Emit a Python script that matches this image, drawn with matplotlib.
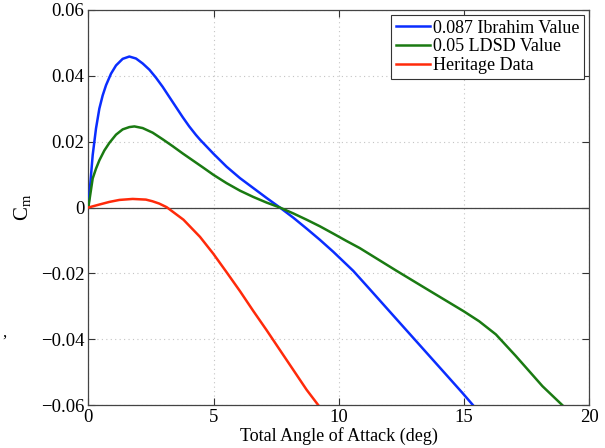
import matplotlib
matplotlib.use("Agg")
import matplotlib.pyplot as plt

plt.rcParams['font.family'] = ['Liberation Serif', 'DejaVu Serif']
plt.rcParams['mathtext.fontset'] = 'custom'
plt.rcParams['mathtext.rm'] = 'Liberation Serif'

# Data
ibrahim_x = [0, 0.174, 0.307, 0.44, 0.573, 0.707, 0.906, 1.106, 1.372, 1.638, 1.904, 2.17,
             2.44, 2.70, 2.97, 3.23, 3.50, 3.77, 4.03, 4.30, 4.46, 5.0, 5.52, 6.06, 6.59,
             7.12, 7.65, 8.19, 8.72, 9.25, 9.78, 10.58, 11.22, 12.29, 13.35, 14.28, 14.95,
             15.37]
ibrahim_y = [0, 0.0159, 0.0240, 0.0300, 0.0340, 0.0371, 0.0406, 0.0431, 0.0451, 0.0458,
             0.0452, 0.0437, 0.0418, 0.0394, 0.0366, 0.0336, 0.0305, 0.0274, 0.0246,
             0.0220, 0.0206, 0.0163, 0.0124, 0.0089, 0.0059, 0.0029, 0.0, -0.0031,
             -0.0064, -0.0098, -0.0134, -0.0192, -0.0246, -0.0337, -0.0427, -0.0506,
             -0.0563, -0.0600]

ldsd_x = [0, 0.174, 0.307, 0.44, 0.64, 0.84, 1.106, 1.372, 1.638, 1.84, 2.17, 2.57, 2.97,
          3.37, 3.77, 4.17, 4.57, 5.0, 5.52, 6.06, 6.59, 7.12, 7.65, 8.19, 8.72, 9.25,
          9.78, 10.3, 10.84, 12.29, 13.62, 15.0, 15.61, 16.28, 17.07, 18.14, 18.94]
ldsd_y = [0, 0.0088, 0.0118, 0.0143, 0.0173, 0.0196, 0.0221, 0.0237, 0.0244, 0.0246,
          0.0241, 0.0227, 0.0207, 0.0186, 0.0164, 0.0143, 0.0122, 0.0099, 0.0074,
          0.0051, 0.0032, 0.0015, 0.0, -0.0018, -0.0037, -0.0057, -0.0079, -0.0101,
          -0.0123, -0.0191, -0.0252, -0.0315, -0.0345, -0.0385, -0.0450, -0.0542,
          -0.0600]

heritage_x = [0, 0.44, 0.84, 1.24, 1.77, 2.30, 2.56, 2.83, 3.13, 3.8, 4.46, 4.99, 5.52,
              6.06, 6.59, 7.12, 7.65, 8.19, 8.72, 9.18]
heritage_y = [0, 0.0009, 0.0017, 0.0023, 0.0026, 0.0024, 0.0019, 0.0012, 0.0001, -0.0037,
              -0.0089, -0.0140, -0.0196, -0.0254, -0.0314, -0.0372, -0.0432, -0.0493,
              -0.0553, -0.0599]

labels = ['0.087 Ibrahim Value', '0.05 LDSD Value', 'Heritage Data']
colors = ['#0a2dff', '#1a7a12', '#ff2a0a']
x_ticks = [0, 5, 10, 15, 20]
y_ticks = [-0.06, -0.04, -0.02, 0, 0.02, 0.04, 0.06]
y_ticklabels = ['\u22120.06', '\u22120.04', '\u22120.02', '0', '0.02', '0.04', '0.06']

fig = plt.figure(figsize=(6.05, 4.48), dpi=100)
ax = fig.add_axes([0.146, 0.0953, 0.8276, 0.883])
ax.set_axisbelow(True)

ax.axhline(0, color='#444444', lw=0.9, zorder=2)
for xs, ys, c, lab in zip([ibrahim_x, ldsd_x, heritage_x], [ibrahim_y, ldsd_y, heritage_y], colors, labels):
    ax.plot(xs, ys, color=c, lw=1.8, label=lab, zorder=3, solid_joinstyle='round')

ax.set_xlim(0, 20)
ax.set_ylim(-0.06, 0.06)
ax.set_xticks(x_ticks)
ax.set_xticklabels([str(t) for t in x_ticks])
ax.set_yticks(y_ticks)
ax.set_yticklabels(y_ticklabels)
ax.tick_params(direction='in', length=5, width=0.8, top=True, right=True,
               labelsize=13.5, pad=3, colors='#333333', labelcolor='black')
ax.grid(True, linestyle=(0, (1, 3)), color='#c4c4c4', lw=0.8)
for s in ax.spines.values():
    s.set_color('#444444')
    s.set_linewidth(0.9)

ax.set_xlabel('Total Angle of Attack (deg)', fontsize=13, labelpad=0.5)
ax.set_ylabel(r'$\mathrm{C_m}$', fontsize=15)
ax.yaxis.set_label_coords(-0.11, 0.5)

leg = ax.legend(loc='upper right', bbox_to_anchor=(0.990, 0.9866), borderaxespad=0,
                fontsize=13, frameon=True, fancybox=False, framealpha=1,
                edgecolor='#333333', labelspacing=0.1, borderpad=0.25,
                handlelength=1.9, handletextpad=0.15)
leg.get_frame().set_linewidth(0.8)

fig.text(4 / 605, 1 - 333 / 448, ',', fontsize=12, ha='center', va='center')

fig.savefig('out.png', dpi=100)
